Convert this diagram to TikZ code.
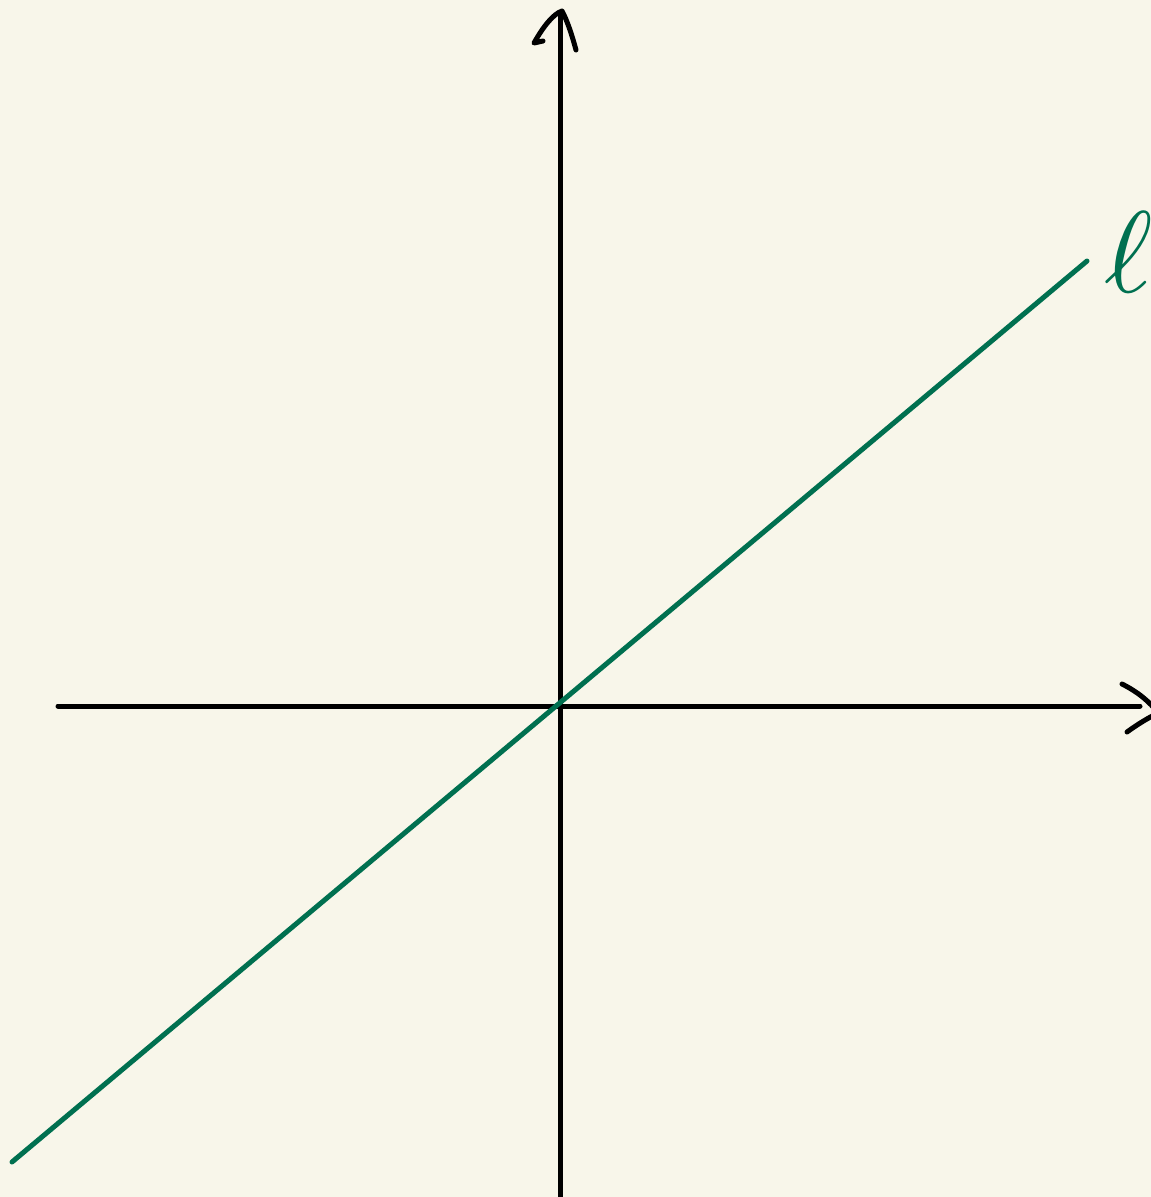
\documentclass[tikz,border=0pt]{standalone}
\definecolor{bgc}{RGB}{248,246,234}
\definecolor{linegreen}{RGB}{0,112,80}
\tikzset{
  axis/.style={line width=5pt, line cap=round, line join=round, black},
  tip/.style={line width=5pt, line cap=round, line join=round, black},
  gline/.style={line width=5pt, line cap=round, linegreen},
}
\begin{document}
\begin{tikzpicture}[x=1pt,y=-1pt]
\fill[bgc] (0,0) rectangle (1151,1197);
\useasboundingbox (0,0) rectangle (1151,1197);
% coordinates
\coordinate (xl) at (58,706);
\coordinate (xr) at (1140,706);
\coordinate (yb) at (560,1200);
\coordinate (yt) at (560,14);
\coordinate (gl) at (12,1162);
\coordinate (gr) at (1087,261);
% axes
\draw[axis] (xl) -- (xr);
\draw[axis] (yb) -- (yt);
% arrow heads (hand drawn)
\draw[tip] (1122,684) .. controls (1138,692) and (1150,702) .. (1158,713) .. controls (1148,718) and (1138,724) .. (1127,732);
\draw[tip] (543,41) -- (534,43) .. controls (543,27) and (553,14) .. (562,11) .. controls (567,20) and (572,35) .. (576,50);
% green line
\draw[gline] (gl) -- (gr);
% label
\node[text=linegreen, inner sep=0pt] (ell) at (1129,252) {\scalebox{11.6}{$\ell$}};
\end{tikzpicture}
\end{document}
